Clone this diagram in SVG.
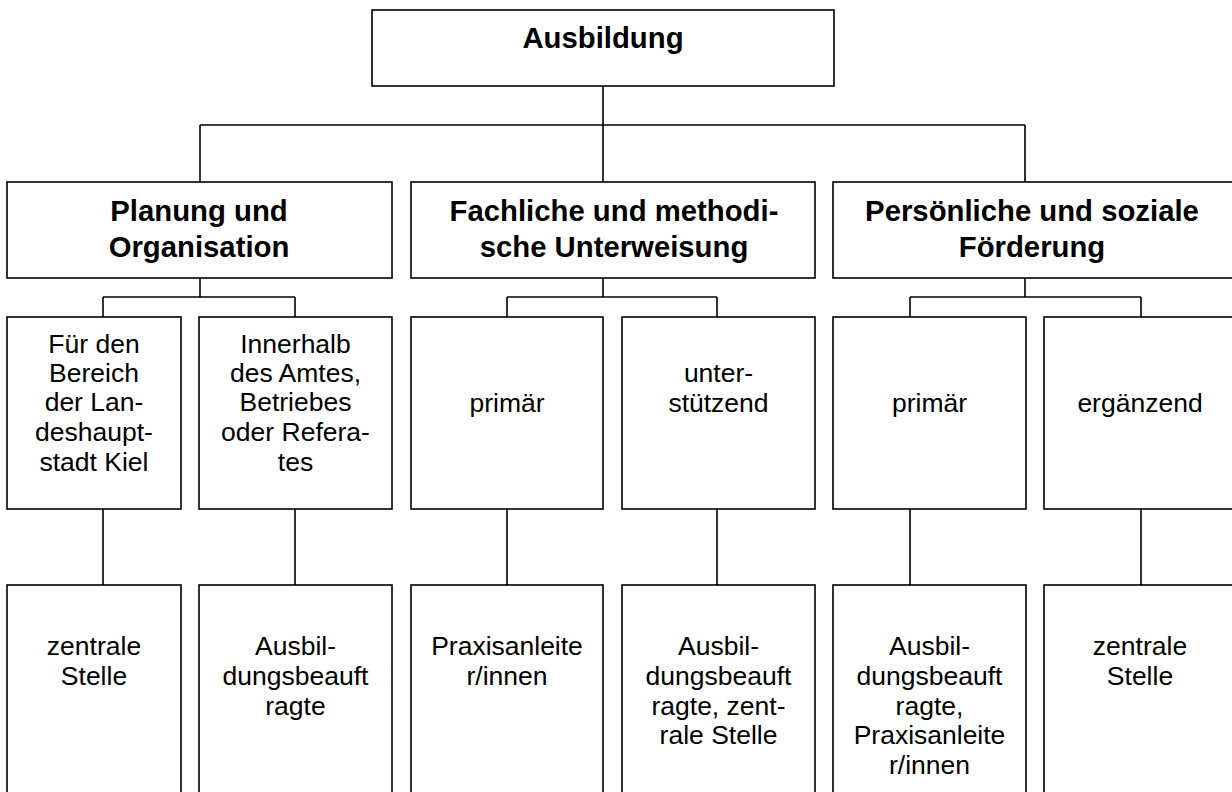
<svg xmlns="http://www.w3.org/2000/svg" width="1232" height="792" viewBox="0 0 1232 792">
<style>
rect{fill:#fff;stroke:#000;stroke-width:1.6}
.c line{stroke:#000;stroke-width:1.6}
text{font-family:"Liberation Sans",Arial,sans-serif;text-anchor:middle;fill:#000}
.b{font-weight:bold;font-size:29.3px}
.n{font-size:26.5px}
</style>
<rect x="0" y="0" width="1232" height="792" style="stroke:none"/>
<g class="c" id="connectors">
<line x1="603" y1="86" x2="603" y2="125"/>
<line x1="200" y1="125" x2="1025" y2="125"/>
<line x1="200" y1="125" x2="200" y2="182"/>
<line x1="603" y1="125" x2="603" y2="182"/>
<line x1="1025" y1="125" x2="1025" y2="182"/>
<line x1="200" y1="278" x2="200" y2="297"/>
<line x1="103" y1="297" x2="295" y2="297"/>
<line x1="103" y1="297" x2="103" y2="317"/>
<line x1="295" y1="297" x2="295" y2="317"/>
<line x1="103" y1="509" x2="103" y2="585"/>
<line x1="295" y1="509" x2="295" y2="585"/>
<line x1="603" y1="278" x2="603" y2="297"/>
<line x1="507" y1="297" x2="717" y2="297"/>
<line x1="507" y1="297" x2="507" y2="317"/>
<line x1="717" y1="297" x2="717" y2="317"/>
<line x1="507" y1="509" x2="507" y2="585"/>
<line x1="717" y1="509" x2="717" y2="585"/>
<line x1="1025" y1="278" x2="1025" y2="297"/>
<line x1="910" y1="297" x2="1141" y2="297"/>
<line x1="910" y1="297" x2="910" y2="317"/>
<line x1="1141" y1="297" x2="1141" y2="317"/>
<line x1="910" y1="509" x2="910" y2="585"/>
<line x1="1141" y1="509" x2="1141" y2="585"/>
</g>
<g id="ausbildung"><rect x="372" y="10" width="462" height="76"/><text class="b" x="603" y="48">Ausbildung</text></g>
<g id="planung"><rect x="7" y="182" width="385" height="96"/><text class="b" x="199" y="221">Planung und</text><text class="b" x="199" y="257">Organisation</text></g>
<g id="fachlich"><rect x="411" y="182" width="404" height="96"/><text class="b" x="614" y="221">Fachliche und methodi-</text><text class="b" x="614" y="257">sche Unterweisung</text></g>
<g id="persoenlich"><rect x="833" y="182" width="402" height="96"/><text class="b" x="1032" y="221">Persönliche und soziale</text><text class="b" x="1032" y="257">Förderung</text></g>
<g id="bereich"><rect x="7" y="317" width="174" height="192"/><text class="n" x="94"><tspan x="94" y="353">Für den</tspan><tspan x="94" y="382">Bereich</tspan><tspan x="94" y="411">der Lan-</tspan><tspan x="94" y="441">deshaupt-</tspan><tspan x="94" y="471">stadt Kiel</tspan></text></g>
<g id="innerhalb"><rect x="199" y="317" width="193" height="192"/><text class="n"><tspan x="295.5" y="353">Innerhalb</tspan><tspan x="295.5" y="382">des Amtes,</tspan><tspan x="295.5" y="411">Betriebes</tspan><tspan x="295.5" y="441">oder Refera-</tspan><tspan x="295.5" y="471">tes</tspan></text></g>
<g id="primaer1"><rect x="411" y="317" width="192" height="192"/><text class="n" x="507" y="412">primär</text></g>
<g id="unterstuetzend"><rect x="622" y="317" width="193" height="192"/><text class="n"><tspan x="718.5" y="382">unter-</tspan><tspan x="718.5" y="412">stützend</tspan></text></g>
<g id="primaer2"><rect x="833" y="317" width="193" height="192"/><text class="n" x="929.5" y="412">primär</text></g>
<g id="ergaenzend"><rect x="1044" y="317" width="194" height="192"/><text class="n" x="1140" y="412">ergänzend</text></g>
<g id="zentrale1"><rect x="7" y="585" width="174" height="220"/><text class="n"><tspan x="94" y="655">zentrale</tspan><tspan x="94" y="685">Stelle</tspan></text></g>
<g id="beauftragte1"><rect x="199" y="585" width="193" height="220"/><text class="n"><tspan x="295.5" y="655">Ausbil-</tspan><tspan x="295.5" y="685">dungsbeauft</tspan><tspan x="295.5" y="715">ragte</tspan></text></g>
<g id="praxis1"><rect x="411" y="585" width="192" height="220"/><text class="n"><tspan x="507" y="655">Praxisanleite</tspan><tspan x="507" y="685">r/innen</tspan></text></g>
<g id="beauftragte2"><rect x="622" y="585" width="193" height="220"/><text class="n"><tspan x="718.5" y="655">Ausbil-</tspan><tspan x="718.5" y="685">dungsbeauft</tspan><tspan x="718.5" y="715">ragte, zent-</tspan><tspan x="718.5" y="744">rale Stelle</tspan></text></g>
<g id="beauftragte3"><rect x="833" y="585" width="193" height="220"/><text class="n"><tspan x="929.5" y="655">Ausbil-</tspan><tspan x="929.5" y="685">dungsbeauft</tspan><tspan x="929.5" y="715">ragte,</tspan><tspan x="929.5" y="744">Praxisanleite</tspan><tspan x="929.5" y="774">r/innen</tspan></text></g>
<g id="zentrale2"><rect x="1044" y="585" width="194" height="220"/><text class="n"><tspan x="1140" y="655">zentrale</tspan><tspan x="1140" y="685">Stelle</tspan></text></g>
</svg>
